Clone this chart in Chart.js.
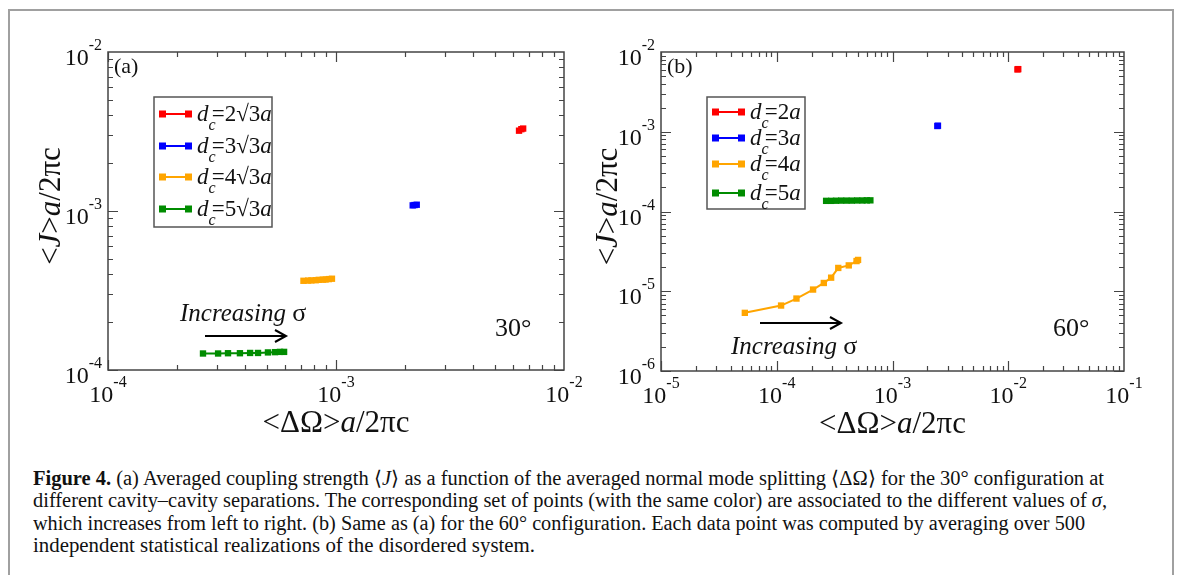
<!DOCTYPE html>
<html>
<head>
<meta charset="utf-8">
<script src="https://cdn.jsdelivr.net/npm/chart.js@4.4.1/dist/chart.umd.min.js"></script>
<style>
  body { margin: 0; background: #fff; width: 1182px; height: 575px; overflow: hidden; position: relative; font-family: "Liberation Serif", serif; }
  #frame { position: absolute; left: 8px; top: 9px; width: 1162px; height: 600px; border: 2px solid #a0a0a0; }
  #wa { position: absolute; left: 0; top: 0; width: 590px; height: 440px; }
  #wb { position: absolute; left: 570px; top: 0; width: 612px; height: 440px; }
  .cap { position: absolute; left: 33px; white-space: nowrap; font-size: 20px; color: #111; transform-origin: 0 0; }
</style>
</head>
<body>
<div id="frame"></div>
<div id="wa"><canvas id="chartA"></canvas></div>
<div id="wb"><canvas id="chartB"></canvas></div>
<div class="cap" style="top:466px" data-w="1071"><b>Figure 4.</b> (a) Averaged coupling strength ⟨<i>J</i>⟩ as a function of the averaged normal mode splitting ⟨ΔΩ⟩ for the 30° configuration at</div>
<div class="cap" style="top:489px" data-w="1074">different cavity–cavity separations. The corresponding set of points (with the same color) are associated to the different values of <i>σ</i>,</div>
<div class="cap" style="top:512px" data-w="1052">which increases from left to right. (b) Same as (a) for the 60° configuration. Each data point was computed by averaging over 500</div>
<div class="cap" style="top:534px" data-w="502">independent statistical realizations of the disordered system.</div>
<script>
// series colours
var colors = ['#ff0000', '#0000ff', '#ffa500', '#008c00'];

// panel (a), 30 degrees: d_c = 2..5 sqrt(3) a
var aLabels = ['2\u221A3', '3\u221A3', '4\u221A3', '5\u221A3'];
var aRedX = [6.35e-3, 6.5e-3, 6.62e-3];
var aRedY = [3.2e-3, 3.27e-3, 3.3e-3];
var aBlueX = [2.17e-3, 2.21e-3, 2.26e-3];
var aBlueY = [1.085e-3, 1.09e-3, 1.095e-3];
var aOrangeX = [7.2e-4, 7.55e-4, 7.8e-4, 8.15e-4, 8.4e-4, 8.75e-4, 9.0e-4, 9.3e-4, 9.6e-4];
var aOrangeY = [3.64e-4, 3.65e-4, 3.66e-4, 3.67e-4, 3.69e-4, 3.7e-4, 3.71e-4, 3.73e-4, 3.75e-4];
var aGreenX = [2.61e-4, 3.04e-4, 3.36e-4, 3.79e-4, 4.2e-4, 4.55e-4, 5.03e-4, 5.4e-4, 5.68e-4, 5.92e-4];
var aGreenY = [1.27e-4, 1.27e-4, 1.275e-4, 1.275e-4, 1.28e-4, 1.28e-4, 1.29e-4, 1.295e-4, 1.3e-4, 1.3e-4];

// panel (b), 60 degrees: d_c = 2..5 a
var bLabels = ['2', '3', '4', '5'];
var bRedX = [1.2e-2, 1.22e-2];
var bRedY = [6.05e-3, 6.1e-3];
var bBlueX = [2.44e-3, 2.47e-3];
var bBlueY = [1.18e-3, 1.19e-3];
var bOrangeX = [5.3e-5, 1.09e-4, 1.48e-4, 2.06e-4, 2.55e-4, 2.95e-4, 3.4e-4, 4.19e-4, 4.89e-4, 5.04e-4];
var bOrangeY = [5.36e-6, 6.62e-6, 8.1e-6, 1.05e-5, 1.27e-5, 1.48e-5, 1.96e-5, 2.11e-5, 2.39e-5, 2.47e-5];
var bGreenX = [2.67e-4, 2.95e-4, 3.25e-4, 3.6e-4, 4.0e-4, 4.45e-4, 4.95e-4, 5.5e-4, 6.0e-4, 6.44e-4];
var bGreenY = [1.36e-4, 1.36e-4, 1.365e-4, 1.37e-4, 1.37e-4, 1.37e-4, 1.375e-4, 1.375e-4, 1.38e-4, 1.38e-4];

// decade exponents used as tick labels
var aXTicks = [-4, -3, -2];
var aYTicks = [-4, -3, -2];
var bXTicks = [-5, -4, -3, -2, -1];
var bYTicks = [-6, -5, -4, -3, -2];

function pts(xs, ys) {
  return xs.map(function (x, i) { return { x: x, y: ys[i] }; });
}

function series(xs, ys, color) {
  return {
    data: pts(xs, ys),
    borderColor: color,
    backgroundColor: color,
    borderWidth: 2,
    pointStyle: 'rect',
    pointRadius: 4.5,
    pointBorderWidth: 0,
    showLine: true,
    tension: 0
  };
}

function rich(ctx, x, y, segs, align) {
  var w = 0;
  segs.forEach(function (s) { ctx.font = s[1]; w += ctx.measureText(s[0]).width * (s[3] == null ? 1 : s[3]); });
  var cx = align === 'center' ? x - w / 2 : align === 'right' ? x - w : x;
  segs.forEach(function (s) {
    ctx.font = s[1];
    ctx.fillText(s[0], cx, y + (s[2] || 0));
    cx += ctx.measureText(s[0]).width * (s[3] == null ? 1 : s[3]);
  });
}

var R = '"Liberation Serif"';
function f(size, style) { return (style || '') + ' ' + size + 'px ' + R; }

var deco = {
  id: 'deco',
  afterDraw: function (chart) {
    var o = chart.options.plugins.deco;
    var ctx = chart.ctx, a = chart.chartArea, sx = chart.scales.x, sy = chart.scales.y;
    ctx.save();
    // frame
    ctx.strokeStyle = '#444';
    ctx.lineWidth = 1.5;
    ctx.strokeRect(a.left, a.top, a.right - a.left, a.bottom - a.top);
    // inward ticks on all four sides
    ctx.lineWidth = 1.2;
    ctx.beginPath();
    var e, m, v, p, len;
    for (e = o.xt[0]; e < o.xt[o.xt.length - 1]; e++) {
      for (m = 1; m < 10; m++) {
        v = m * Math.pow(10, e);
        p = Math.round(sx.getPixelForValue(v)) + 0.5;
        len = m === 1 ? 10 : 5;
        ctx.moveTo(p, a.bottom); ctx.lineTo(p, a.bottom - len);
        ctx.moveTo(p, a.top); ctx.lineTo(p, a.top + len);
      }
    }
    for (e = o.yt[0]; e < o.yt[o.yt.length - 1]; e++) {
      for (m = 1; m < 10; m++) {
        v = m * Math.pow(10, e);
        p = Math.round(sy.getPixelForValue(v)) + 0.5;
        len = m === 1 ? 10 : 5;
        ctx.moveTo(a.left, p); ctx.lineTo(a.left + len, p);
        ctx.moveTo(a.right, p); ctx.lineTo(a.right - len, p);
      }
    }
    ctx.stroke();

    ctx.fillStyle = '#111';
    ctx.textBaseline = 'alphabetic';
    // tick labels 10^n
    o.xt.forEach(function (n) {
      var px = sx.getPixelForValue(Math.pow(10, n));
      rich(ctx, px, a.bottom + 32, [['10', f(24)], [String(n), f(16), -15]], 'center');
    });
    o.yt.forEach(function (n) {
      var py = sy.getPixelForValue(Math.pow(10, n));
      rich(ctx, a.left - 6, py + 13, [['10', f(24)], [String(n), f(16), -15]], 'right');
    });

    // axis titles
    rich(ctx, (a.left + a.right) / 2, a.bottom + 62, [['<\u0394\u03A9>', f(31)], ['a', f(31, 'italic')], ['/2\u03C0c', f(31)]], 'center');
    ctx.save();
    ctx.translate(o.ytx, (a.top + a.bottom) / 2 - 5);
    ctx.rotate(-Math.PI / 2);
    rich(ctx, 0, 11, [['<', f(31)], ['J', f(31, 'italic')], ['>', f(31)], ['a', f(31, 'italic')], ['/2\u03C0c', f(31)]], 'center');
    ctx.restore();

    // panel tag, angle, arrow note
    rich(ctx, a.left + 6, a.top + 21, [['(' + o.tag + ')', f(22)]], 'left');
    rich(ctx, o.ang[0], o.ang[1], [[o.angText, f(26)]], 'left');
    rich(ctx, o.note[0], o.note[1], [['Increasing ', f(25, 'italic')], ['\u03C3', f(26)]], 'left');
    ctx.lineWidth = 2;
    ctx.strokeStyle = '#000';
    ctx.beginPath();
    ctx.moveTo(o.arrow[0], o.arrow[2]); ctx.lineTo(o.arrow[1], o.arrow[2]);
    ctx.moveTo(o.arrow[1] - 11, o.arrow[2] - 6); ctx.lineTo(o.arrow[1], o.arrow[2]); ctx.lineTo(o.arrow[1] - 11, o.arrow[2] + 6);
    ctx.stroke();

    // legend
    var L = o.legend;
    ctx.strokeStyle = '#555';
    ctx.lineWidth = 1.5;
    ctx.strokeRect(L.x, L.y, L.w, L.h);
    chart.data.datasets.forEach(function (ds, i) {
      var ly = L.rows[i];
      ctx.strokeStyle = ds.borderColor;
      ctx.fillStyle = ds.borderColor;
      ctx.lineWidth = 2;
      ctx.beginPath(); ctx.moveTo(L.x + 6, ly); ctx.lineTo(L.x + 37, ly); ctx.stroke();
      ctx.fillRect(L.x + 5, ly - 3.5, 7, 7);
      ctx.fillRect(L.x + 31, ly - 3.5, 7, 7);
      ctx.fillStyle = '#111';
      rich(ctx, L.x + 43, ly + 7, [['d', f(23, 'italic')], ['c', f(16, 'italic'), 9, 0.45], ['=' + o.labels[i], f(23)], ['a', f(23, 'italic')]], 'left');
    });
    ctx.restore();
  }
};

function makeChart(id, sets, xr, yr, pad, deco_opts) {
  return new Chart(document.getElementById(id), {
    type: 'scatter',
    data: {
      datasets: sets.map(function (s, i) { return series(s[0], s[1], colors[i]); })
    },
    options: {
      responsive: true,
      maintainAspectRatio: false,
      animation: { duration: 0 },
      layout: { padding: pad },
      scales: {
        x: { type: 'logarithmic', display: false, min: xr[0], max: xr[1] },
        y: { type: 'logarithmic', display: false, min: yr[0], max: yr[1] }
      },
      plugins: {
        legend: { display: false },
        tooltip: { enabled: false },
        deco: deco_opts
      }
    },
    plugins: [deco]
  });
}

makeChart('chartA',
  [[aRedX, aRedY], [aBlueX, aBlueY], [aOrangeX, aOrangeY], [aGreenX, aGreenY]],
  [1e-4, 1e-2], [1e-4, 1e-2],
  { left: 108, top: 52, right: 26, bottom: 70 },
  {
    xt: aXTicks, yt: aYTicks, labels: aLabels, tag: 'a', ytx: 49,
    angText: '30\u00B0', ang: [495, 336], note: [180, 321], arrow: [205, 286, 336],
    legend: { x: 154, y: 97, w: 118, h: 130, rows: [114, 146, 177, 209] }
  });

makeChart('chartB',
  [[bRedX, bRedY], [bBlueX, bBlueY], [bOrangeX, bOrangeY], [bGreenX, bGreenY]],
  [1e-5, 1e-1], [1e-6, 1e-2],
  { left: 91, top: 52, right: 58, bottom: 69 },
  {
    xt: bXTicks, yt: bYTicks, labels: bLabels, tag: 'b', ytx: 36,
    angText: '60\u00B0', ang: [483, 336], note: [161, 354], arrow: [190, 271, 323],
    legend: { x: 137, y: 97, w: 98, h: 112, rows: [112, 138, 164, 193] }
  });

// fit caption lines to their widths
document.querySelectorAll('.cap').forEach(function (el) {
  var w = el.getBoundingClientRect().width;
  el.style.transform = 'scaleX(' + (parseFloat(el.dataset.w) / w) + ')';
});
</script>
</body>
</html>
